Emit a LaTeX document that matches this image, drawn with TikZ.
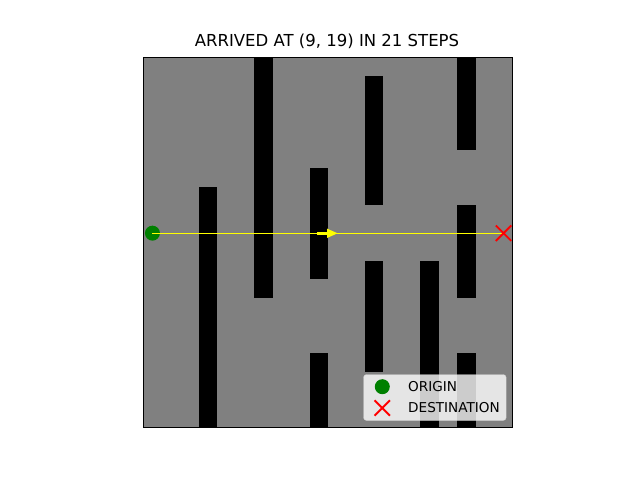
\documentclass[tikz,border=0pt]{standalone}
\usepackage{fontspec}
\setmainfont{DejaVu Sans}
\usetikzlibrary{arrows.meta}
\definecolor{bggray}{HTML}{808080}
\definecolor{mgreen}{HTML}{008000}
\definecolor{mred}{HTML}{FF0000}
\definecolor{myellow}{HTML}{FFFF00}
\tikzset{
  wall/.style={fill=black, draw=none},
  pathline/.style={draw=myellow, line width=1.1pt},
  originmark/.style={circle, fill=mgreen, minimum size=15pt, inner sep=0pt},
  destmark/.style={minimum size=15pt, inner sep=0pt},
  xstroke/.style={draw=mred, line width=1.9pt},
  legtext/.style={anchor=base west, inner sep=0pt, font=\fontsize{13.6pt}{16pt}\selectfont},
}
\begin{document}
\begin{tikzpicture}[x=1pt,y=-1pt]
\useasboundingbox (0,0) rectangle (640,480);
\fill[white] (0,0) rectangle (640,480);
% title
\node[anchor=base, inner sep=0pt, font=\fontsize{16.5pt}{20pt}\selectfont] (title) at (327,46.5) {ARRIVED AT (9, 19) IN 21 STEPS};
% grid
\begin{scope}[shift={(143.2pt,-57.6pt)}, x=18.48pt, y=-18.48pt]
  \fill[bggray] (0,0) rectangle (20,20);
  \foreach \c/\a/\b in {3/7/20, 6/0/13, 9/6/12, 9/16/20, 12/1/8, 12/11/17, 15/11/20, 17/0/5, 17/8/13, 17/16/20}
    \fill[wall] (\c,\a) rectangle (\c+1,\b);
  \node[originmark] (origin) at (0.5,9.5) {};
  \node[destmark] (dest) at (19.5,9.5) {};
  \draw[pathline] (origin.center) -- (dest.center);
  \draw[black, line width=0.8pt] (0,0) rectangle (20,20);
\end{scope}
\draw[xstroke] (dest.north west) -- (dest.south east) (dest.north east) -- (dest.south west);
% arrow
\coordinate (arrA) at (317,233.3);
\coordinate (arrB) at (338,233.3);
\draw[draw=myellow, line width=3pt, -{Triangle[length=11pt, width=8.5pt]}] (arrA) -- (arrB);
% legend
\node[draw=black!20, fill=white, fill opacity=0.8, draw opacity=0.8, rounded corners=3pt, minimum width=142.7pt, minimum height=46pt, inner sep=0pt, anchor=north west] (legend) at (363.3,374.3) {};
\node[originmark] (legO) at (382.3,386.7) {};
\node[destmark] (legD) at (382.3,408) {};
\draw[xstroke] (legD.north west) -- (legD.south east) (legD.north east) -- (legD.south west);
\node[legtext] (legOt) at (408,391.3) {ORIGIN};
\node[legtext] (legDt) at (408,412.3) {DESTINATION};
\end{tikzpicture}
\end{document}
